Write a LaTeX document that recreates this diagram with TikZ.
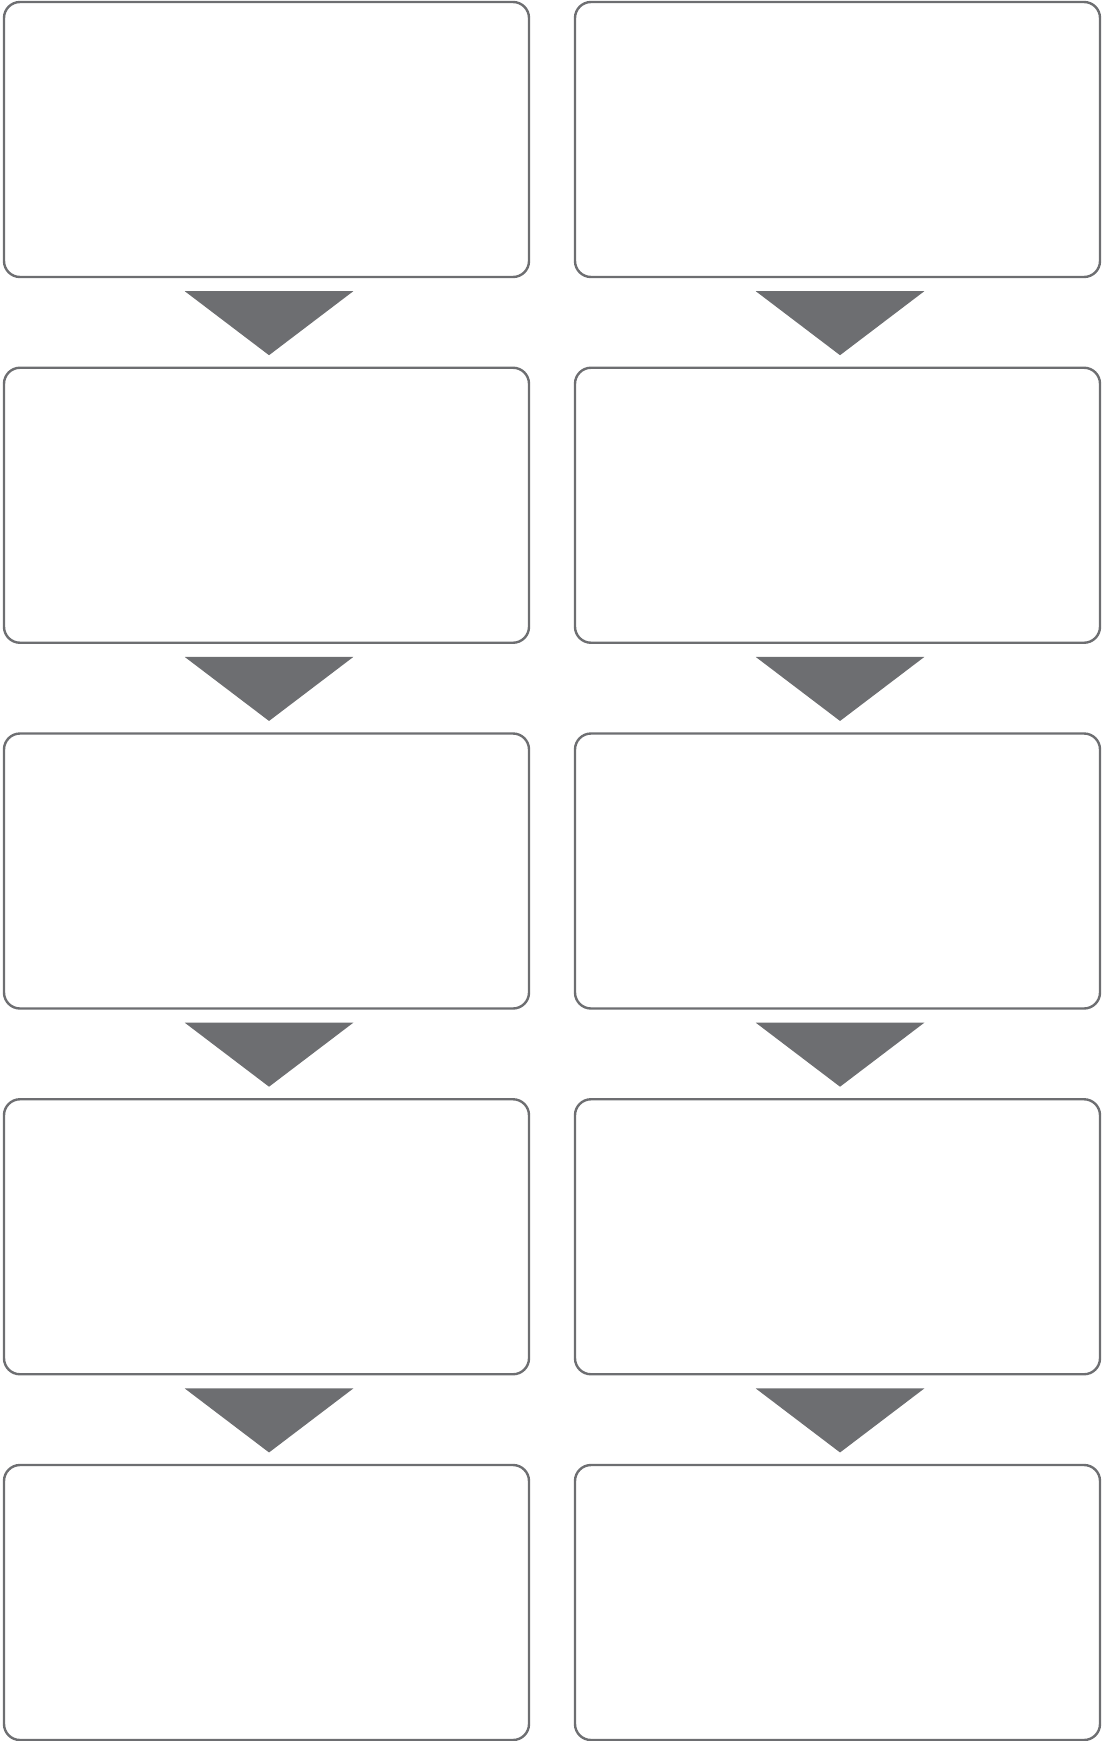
\documentclass[tikz,border=0pt]{standalone}
\usepackage{xcolor}
\usepackage{tikz}
\usetikzlibrary{positioning}
\definecolor{boxgray}{HTML}{6D6E71}

\begin{document}
\begin{tikzpicture}[x=0.75pt,y=-0.75pt,
                stepbox/.style={draw=boxgray, line width=1.8pt, rounded corners=12pt, rectangle, minimum width=393.75pt, minimum height=206.25pt, inner sep=0pt},
                downtri/.style={fill=boxgray}]
                \useasboundingbox (0,0) rectangle (1102,1741);
                \foreach \i in {1,...,5} {
                    \node[stepbox] (left\i) at (266.5,{139.5+365.75*(\i-1)}) {};
                    \node[stepbox] (right\i) at (837.5,{139.5+365.75*(\i-1)}) {};
                }
                \foreach \i in {1,...,4} {
                    \foreach \c in {left,right} {
                        \fill[downtri] ([xshift=-61.3pt,yshift=-9.75pt]\c\i.south) -- ([xshift=65.1pt,yshift=-9.75pt]\c\i.south) -- ([xshift=1.9pt,yshift=-57.75pt]\c\i.south) -- cycle;
                    }
                }
            \end{tikzpicture}
\end{document}
